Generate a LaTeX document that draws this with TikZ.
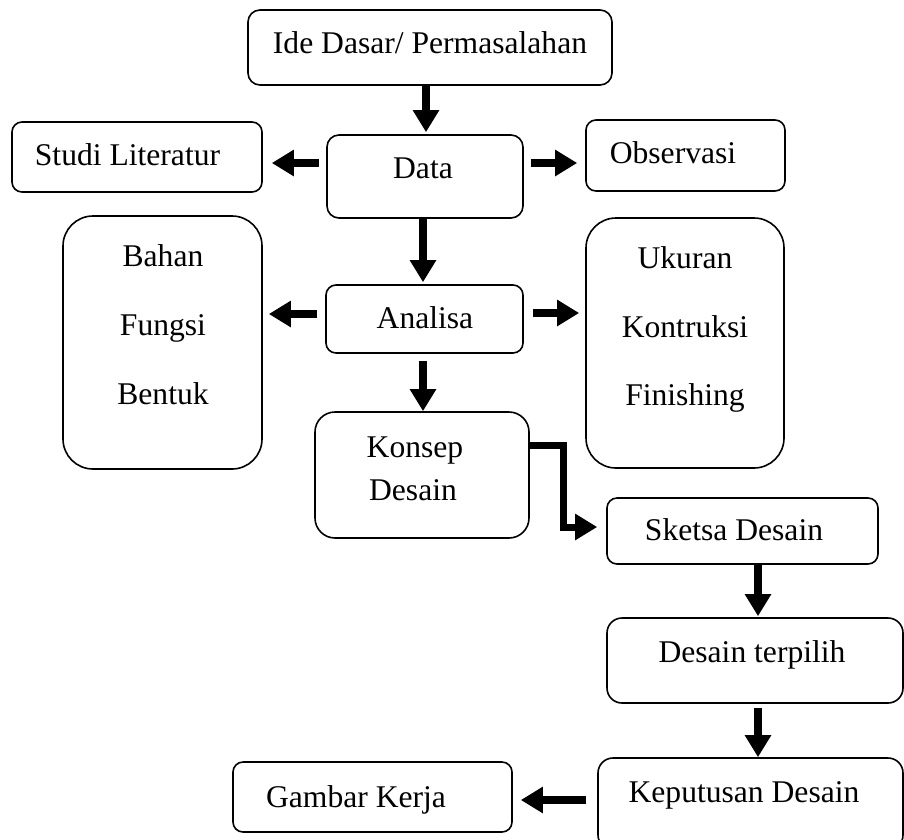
\documentclass[tikz,border=0pt]{standalone}
\usepackage{fontspec}
\setmainfont{Liberation Serif}
\usetikzlibrary{arrows.meta}
\tikzset{
  boxx/.style={draw=black, line width=1.6pt, fill=white, inner sep=0pt},
  txt/.style={anchor=base, inner sep=0pt, font=\fontsize{31.6}{38}\selectfont},
  arr/.style={line width=7.5pt, line join=miter, -{Triangle[width=25pt,length=22pt]}}
}
\newcommand{\rbox}[6]{% name, x1, y1, x2, y2, radius
  \node[boxx, rounded corners=#6pt, minimum width={#4-#2}, minimum height={#5-#3}] (#1) at ({(#2+#4)/2},{(#3+#5)/2}) {};}
\begin{document}
\begin{tikzpicture}[x=1pt,y=-1pt]
\useasboundingbox (0,0) rectangle (904,839);
% boxes
\rbox{ide}{248}{10}{612}{85}{12}
\rbox{studi}{12}{122}{262}{192}{10}
\rbox{data}{327}{135}{523}{218}{12}
\rbox{obs}{586}{120}{785}{191}{10}
\rbox{bahan}{63}{216}{262}{469}{30}
\rbox{analisa}{326}{285}{523}{353}{10}
\rbox{ukuran}{586}{218}{784}{468}{30}
\rbox{konsep}{315}{412}{529}{538}{20}
\rbox{sketsa}{607}{498}{878}{564}{10}
\rbox{terpilih}{607}{618}{903}{703}{15}
\rbox{keputusan}{598}{758}{903}{850}{15}
\rbox{gambar}{233}{762}{512}{832}{10}
% texts
\node[txt] (ideT) at (430,53) {Ide Dasar/ Permasalahan};
\node[txt] (dataT) at (423,178) {Data};
\node[txt] (studiT) at (127.5,165) {Studi Literatur};
\node[txt] (obsT) at (673,163) {Observasi};
\node[txt] (bahanT) at (163,266) {Bahan};
\node[txt] (fungsiT) at (163,335) {Fungsi};
\node[txt] (bentukT) at (163,404) {Bentuk};
\node[txt] (analisaT) at (425,328) {Analisa};
\node[txt] (ukuranT) at (685,268) {Ukuran};
\node[txt] (kontruksiT) at (685,337) {Kontruksi};
\node[txt] (finishingT) at (685,405) {Finishing};
\node[txt] (konsepT) at (415,457) {Konsep};
\node[txt] (desainT) at (413,500) {Desain};
\node[txt] (sketsaT) at (734,540) {Sketsa Desain};
\node[txt] (terpilihT) at (752,662) {Desain terpilih};
\node[txt] (keputusanT) at (744,802) {Keputusan Desain};
\node[txt] (gambarT) at (356,807) {Gambar Kerja};
% arrows
\draw[arr, shorten >=2pt] (426,0 |- ide.south) -- (426,0 |- data.north);
\draw[arr, shorten <=7pt, shorten >=9pt] (data.west |- 0,163) -- (studi.east |- 0,163);
\draw[arr, shorten <=7pt, shorten >=8pt] (data.east |- 0,163) -- (obs.west |- 0,163);
\draw[arr, shorten >=2pt] (423,0 |- data.south) -- (423,0 |- analisa.north);
\draw[arr, shorten <=8pt, shorten >=6pt] (analisa.west |- 0,314) -- (bahan.east |- 0,314);
\draw[arr, shorten <=9pt, shorten >=6pt] (analisa.east |- 0,313) -- (ukuran.west |- 0,313);
\draw[arr, shorten <=7pt, shorten >=0pt] (423,0 |- analisa.south) -- (423,0 |- konsep.north);
\draw[arr, line width=7pt, shorten >=9pt] (konsep.east |- 0,445) -- (563,445) -- (563,527) -- (sketsa.west |- 0,527);
\draw[arr, shorten >=1pt] (758,0 |- sketsa.south) -- (758,0 |- terpilih.north);
\draw[arr, shorten <=4pt, shorten >=0pt] (758,0 |- terpilih.south) -- (758,0 |- keputusan.north);
\draw[arr, shorten <=11pt, shorten >=8pt] (keputusan.west |- 0,800) -- (gambar.east |- 0,800);
\end{tikzpicture}
\end{document}
